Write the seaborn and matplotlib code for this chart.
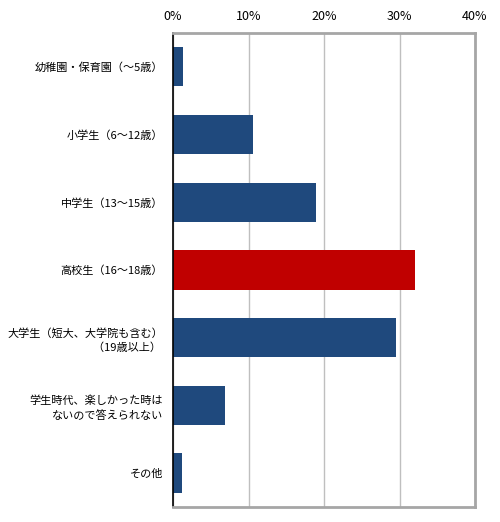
import matplotlib
matplotlib.use("Agg")
import matplotlib.pyplot as plt
import seaborn as sns
import pandas as pd
from matplotlib.ticker import PercentFormatter

# data
categories = [
    "幼稚園・保育園（～5歳）",
    "小学生（6～12歳）",
    "中学生（13～15歳）",
    "高校生（16～18歳）",
    "大学生（短大、大学院も含む）\n（19歳以上） ",
    "学生時代、楽しかった時は\nないので答えられない",
    "その他",
]
values = [1.3, 10.6, 18.9, 32.0, 29.5, 6.9, 1.2]
highlight = "高校生（16～18歳）"
x_ticks = [0, 10, 20, 30, 40]

BLUE = "#1F497D"
RED = "#C00000"

sns.set_style("white")
plt.rcParams["font.family"] = ["Noto Sans CJK JP", "DejaVu Sans"]

df = pd.DataFrame({"category": categories, "value": values})
palette = {c: (RED if c == highlight else BLUE) for c in categories}

fig = plt.figure(figsize=(5, 5.22), dpi=100)
ax = fig.add_axes([0.346, 0.029, 0.604, 0.908])

sns.barplot(data=df, x="value", y="category", hue="category", palette=palette,
            order=categories, width=0.58, legend=False, ax=ax, saturation=1,
            linewidth=0)

ax.set_xlim(0, 40)
ax.set_xticks(x_ticks)
ax.xaxis.set_major_formatter(PercentFormatter(decimals=0))
ax.xaxis.tick_top()
ax.grid(axis="x", color="#BFBFBF", linewidth=1)
ax.set_axisbelow(True)
ax.set_xlabel("")
ax.set_ylabel("")

for side in ["top", "right", "bottom"]:
    ax.spines[side].set_color("#A6A6A6")
    ax.spines[side].set_linewidth(2)
ax.spines["left"].set_color("black")
ax.spines["left"].set_linewidth(1.2)

ax.tick_params(axis="x", length=0, pad=7, labelsize=9, labelcolor="black")
ax.tick_params(axis="y", length=0, pad=7, labelsize=8, labelcolor="black")
for lbl in ax.get_yticklabels():
    lbl.set_horizontalalignment("right")
    lbl.set_multialignment("right")
    lbl.set_linespacing(1.45)

fig.savefig("out.png", dpi=100, facecolor="white")
